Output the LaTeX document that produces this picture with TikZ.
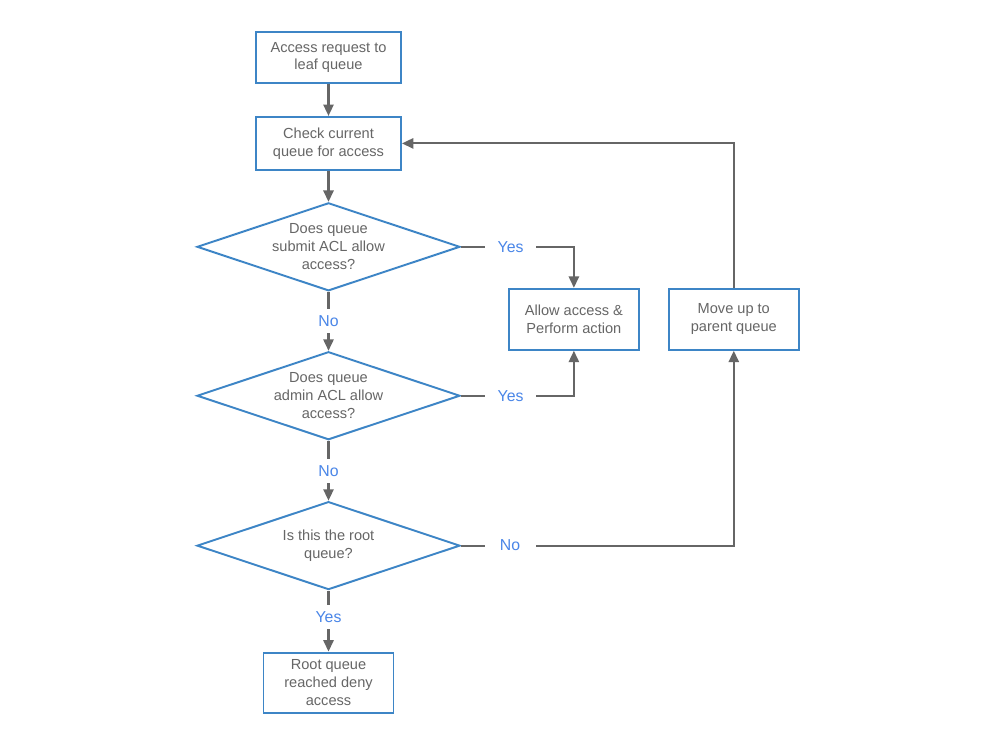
\documentclass[tikz,border=0pt]{standalone}
\usepackage{fontspec}
\setmainfont{Liberation Sans}
\usetikzlibrary{positioning,shapes.geometric,arrows.meta}
\definecolor{boxblue}{HTML}{3D85C6}
\definecolor{labelblue}{HTML}{4A86E8}
\definecolor{linegray}{HTML}{666666}

\begin{document}
\begin{tikzpicture}[x=0.02cm, y=0.02cm, font=\fontsize{8.3}{10.2}\selectfont,
                    stepnode/.style={rectangle, draw=boxblue, fill=white, line width=1.1pt, text=linegray, align=center, minimum width=2.6cm, minimum height=1.2cm, inner sep=1pt},
                    asknode/.style={diamond, draw=boxblue, fill=white, line width=1.1pt, aspect=3, inner sep=0pt, minimum width=5.26cm, minimum height=1.76cm},
                    asktext/.style={text=linegray, align=center},
                    answer/.style={fill=white, text=labelblue, font=\fontsize{9}{10}\selectfont, minimum width=1.02cm, minimum height=0.48cm, inner sep=0pt},
                    arrow/.style={draw=linegray, line width=1.2pt, -{Triangle[length=6.5pt,width=5.8pt]}},]
    \useasboundingbox[fill=white] (0,0) rectangle (1000,744);
    % nodes
    \node[stepnode, minimum width=2.9cm, minimum height=1.02cm]      (req)     at (328.5,686.5)        {Access request to\\leaf queue};
    \node[stepnode, minimum width=2.9cm, minimum height=1.06cm]      (check)   [below=0.64cm of req]   {Check current\\queue for access};
    \node[asknode]      (submit)   [below=0.62cm of check, label={[asktext]center:Does queue\\submit ACL allow\\access?}]       {};
    \node[asknode]      (admin)    [below=1.18cm of submit, label={[asktext]center:Does queue\\admin ACL allow\\access?}]       {};
    \node[asknode]      (isroot)   [below=1.2cm of admin, label={[asktext]center:Is this the root\\queue?}]       {};
    \node[stepnode]     (deny)     [below=1.22cm of isroot]      {Root queue\\reached deny\\access};
    \node[stepnode, minimum height=1.22cm]     (allow)    [below right=0.82cm and 0.94cm of submit.east]      {Allow access \&\\Perform action};
    \node[stepnode, minimum height=1.22cm]     (moveup)   [right=0.56cm of allow]      {Move up to\\parent queue};
    % lines
    \draw[arrow] (req) -- (check);
    \draw[arrow] (check) -- (submit);
    \draw[arrow] (submit) -- node[answer] {No} (admin);
    \draw[arrow] (admin) -- node[answer] {No} (isroot);
    \draw[arrow] (isroot) -- node[answer, pos=0.43] {Yes} (deny);
    \draw[arrow] (submit.east) -| node[answer, pos=0.22] {Yes} (allow.north);
    \draw[arrow] (admin.east) -| node[answer, pos=0.22] {Yes} (allow.south);
    \draw[arrow] (isroot.east) -| node[answer, pos=0.09] {No} (moveup.south);
    \draw[arrow] (moveup.north) |- (check.east);
\end{tikzpicture}
\end{document}
